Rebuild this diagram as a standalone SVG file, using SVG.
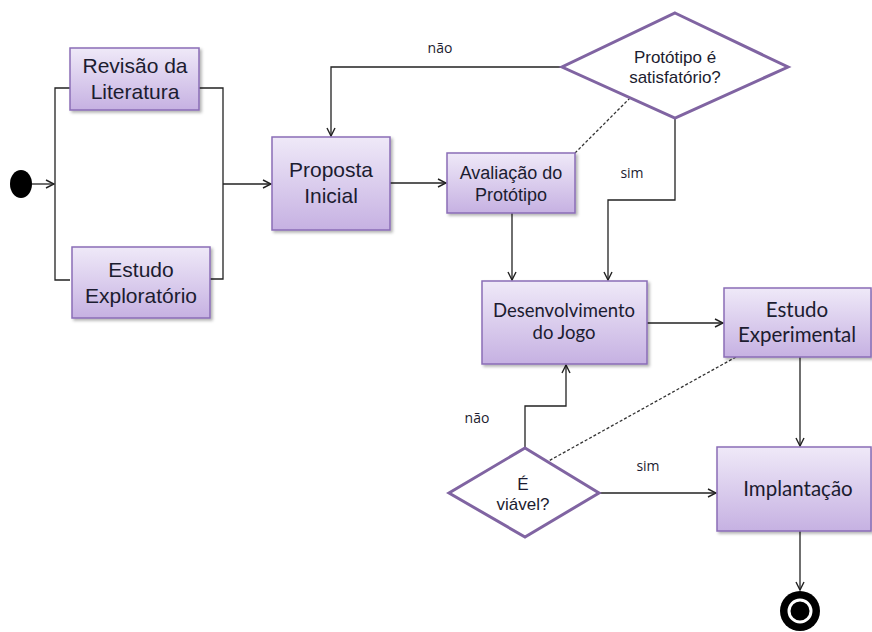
<svg xmlns="http://www.w3.org/2000/svg" width="872" height="632" viewBox="0 0 872 632">
<defs>
<linearGradient id="boxg" x1="0" y1="0" x2="0" y2="1">
<stop offset="0" stop-color="#efe9f8"/>
<stop offset="1" stop-color="#c6b1e2"/>
</linearGradient>
<filter id="sh" x="-10%" y="-10%" width="130%" height="130%">
<feDropShadow dx="2" dy="2" stdDeviation="1.5" flood-color="#000" flood-opacity="0.3"/>
</filter>
<marker id="arr" viewBox="0 0 10 10" refX="9" refY="5" markerWidth="10" markerHeight="10" markerUnits="userSpaceOnUse" orient="auto">
<path d="M1,1 L9,5 L1,9" fill="none" stroke="#222" stroke-width="1.4"/>
</marker>
</defs>
<style>
.box{fill:url(#boxg);stroke:#8a6db6;stroke-width:1.5;filter:url(#sh)}
.dia{fill:#fff;stroke:#8064a2;stroke-width:3}
.ln{fill:none;stroke:#222;stroke-width:1.3}
.ar{marker-end:url(#arr)}
.dash{fill:none;stroke:#333;stroke-width:1.3;stroke-dasharray:3,2}
.ta{font-family:"Liberation Sans",Arial,sans-serif;fill:#1c1c30;text-anchor:middle}
.tc{font-family:Lato,"Open Sans",sans-serif;fill:#1c1c30;text-anchor:middle}
.lb{font-family:"Open Sans","Liberation Sans",sans-serif;font-size:14px;fill:#1c1c30;text-anchor:middle}
</style>
<rect width="872" height="632" fill="#fff"/>

<g id="connectors">
<path class="ln ar" d="M32,184 H54"/>
<path class="ln" d="M70,88 H55 V280 H70"/>
<path class="ln" d="M199,88 H223 V279 H210"/>
<path class="ln ar" d="M223,184 H271"/>
<path class="ln ar" d="M390,183 H446"/>
<path class="ln ar" d="M562,67 H331 V136"/>
<path class="dash" d="M575,153 L633,95"/>
<path class="ln ar" d="M675,118 V200 H608 V280"/>
<path class="ln ar" d="M512,213 V280"/>
<path class="ln ar" d="M647,323 H723"/>
<path class="dash" d="M736,357 L545,463"/>
<path class="ln ar" d="M525,448 V406 H566 V365"/>
<path class="ln ar" d="M599,493 H716"/>
<path class="ln ar" d="M800,357 V446"/>
<path class="ln ar" d="M800,531 V590"/>
<text class="lb" x="440" y="53">não</text>
<text class="lb" x="632" y="178">sim</text>
<text class="lb" x="477" y="423">não</text>
<text class="lb" x="648" y="471">sim</text>
</g>

<g id="start"><ellipse cx="21" cy="184" rx="11" ry="14" fill="#000"/></g>

<g id="revisao">
<rect class="box" x="70" y="48" width="129" height="62"/>
<text class="ta" font-size="21" x="135" y="73">Revisão da</text>
<text class="ta" font-size="21" x="135" y="99">Literatura</text>
</g>

<g id="exploratorio">
<rect class="box" x="72" y="247" width="138" height="71"/>
<text class="ta" font-size="21" x="141" y="277">Estudo</text>
<text class="ta" font-size="21" x="141" y="303">Exploratório</text>
</g>

<g id="proposta">
<rect class="box" x="272" y="137" width="118" height="93"/>
<text class="ta" font-size="21" x="331" y="177">Proposta</text>
<text class="ta" font-size="21" x="331" y="203">Inicial</text>
</g>

<g id="avaliacao">
<rect class="box" x="447" y="153" width="128" height="60"/>
<text class="ta" font-size="18" x="511" y="179">Avaliação do</text>
<text class="ta" font-size="18" x="511" y="201">Protótipo</text>
</g>

<g id="satisfatorio">
<polygon class="dia" points="675,13 788,67 675,118 562,67"/>
<text class="ta" font-size="17" x="675" y="63">Protótipo é</text>
<text class="ta" font-size="17" x="675" y="83">satisfatório?</text>
</g>

<g id="desenvolvimento">
<rect class="box" x="482" y="281" width="165" height="83"/>
<text class="tc" font-size="18.5" x="564" y="317">Desenvolvimento</text>
<text class="tc" font-size="18.5" x="564" y="339">do Jogo</text>
</g>

<g id="experimental">
<rect class="box" x="724" y="288" width="147" height="69"/>
<text class="tc" font-size="20.5" x="797" y="317">Estudo</text>
<text class="tc" font-size="20.5" x="797" y="342">Experimental</text>
</g>

<g id="viavel">
<polygon class="dia" points="525,448 599,493 525,537 449,493"/>
<text class="ta" font-size="17" x="523" y="490">É</text>
<text class="ta" font-size="17" x="523" y="510">viável?</text>
</g>

<g id="implantacao">
<rect class="box" x="717" y="447" width="154" height="84"/>
<text class="tc" font-size="20.5" x="798" y="496">Implantação</text>
</g>

<g id="end">
<circle cx="800" cy="611" r="20" fill="#000"/>
<circle cx="800" cy="611" r="11" fill="none" stroke="#fff" stroke-width="3"/>
</g>
</svg>
